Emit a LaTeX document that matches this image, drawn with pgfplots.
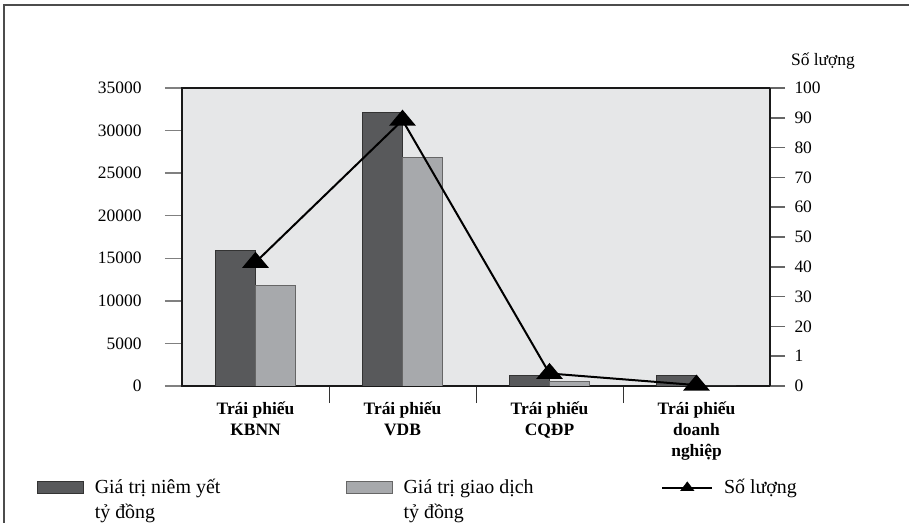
\documentclass[border=0pt]{standalone}
\usepackage{pgfplots}
\pgfplotsset{compat=1.18}
\usepackage{fontspec}
\setmainfont{Liberation Serif}
\definecolor{bgc}{HTML}{E6E7E8}
\definecolor{darkbar}{HTML}{58595B}
\definecolor{lightbar}{HTML}{A7A9AC}
\begin{document}
\begin{tikzpicture}
\path[use as bounding box] (0,0) rectangle (909bp,523bp);
\draw[line width=1.5bp, black!70] (4bp,-5bp) -- (4bp,518bp) -- (915bp,518bp);
\begin{axis}[
  at={(182bp,137bp)}, anchor=south west,
  width=588bp, height=298bp, scale only axis,
  xmin=-0.5, xmax=3.5, ymin=0, ymax=35000,
  axis background/.style={fill=bgc},
  axis line style={line width=2bp, black!90},
  ytick={0,5000,...,35000},
  xtick={0.5,1.5,2.5},
  xticklabels={,,},
  extra x ticks={0,1,2,3},
  extra x tick labels={{Trái phiếu\\KBNN},{Trái phiếu\\VDB},{Trái phiếu\\CQĐP},{Trái phiếu\\doanh\\nghiệp}},
  extra x tick style={major tick length=0pt, tick label style={align=center, yshift=-12bp, font=\bfseries\fontsize{17.5}{21}\selectfont}},
  x tick style={black!80, line width=1bp},
  y tick style={black!50, line width=1.5bp},
  major tick length=17bp,
  tick align=outside,
  xtick pos=bottom, ytick pos=left,
  y tick label style={font=\fontsize{17.5}{21}\selectfont, xshift=-20bp},
  /pgf/number format/assume math mode=true,
  /pgf/number format/1000 sep={},
  scaled y ticks=false,
  ybar, bar width=0.27,
  legend columns=3,
  legend style={at={(-0.2466,-0.3066)}, anchor=north west, draw=none, fill=none,
    inner sep=0pt, outer sep=0pt, column sep=0pt,
    cells={anchor=base west, inner sep=0pt},
    /tikz/every odd column/.append style={column sep=9bp},
    font=\fontsize{20}{25}\selectfont},
]
\addplot[fill=darkbar, draw=black!80, line width=0.8bp, bar shift=-0.135,
  legend image code/.code={\draw[fill=darkbar, draw=black!80, line width=0.8bp] (0bp,0bp) rectangle (46bp,12bp);}]
  coordinates {(0,15900) (1,32100) (2,1250) (3,1250)};
\addlegendentry{\parbox[t]{249bp}{Giá trị niêm yết\\tỷ đồng}}
\addplot[fill=lightbar, draw=black!60, line width=0.8bp, bar shift=0.135,
  legend image code/.code={\draw[fill=lightbar, draw=black!60, line width=0.8bp] (0bp,0bp) rectangle (46bp,12bp);}]
  coordinates {(0,11800) (1,26800) (2,560) (3,0)};
\addlegendentry{\parbox[t]{256bp}{Giá trị giao dịch\\tỷ đồng}}
\addlegendimage{legend image code/.code={\draw[sharp plot, black, line width=1.5bp] (0bp,6bp) -- (50bp,6bp); \draw[sharp plot, black, mark=triangle*, mark size=6bp, mark options={xscale=1.3}] plot coordinates {(25bp,6bp)};}}
\addlegendentry{Số lượng}
\end{axis}
\begin{axis}[
  at={(182bp,137bp)}, anchor=south west,
  width=588bp, height=298bp, scale only axis,
  xmin=-0.5, xmax=3.5, ymin=0, ymax=100,
  axis y line*=right, axis x line=none,
  axis line style={line width=2bp, black!90},
  ytick={0,10,...,100},
  yticklabels={0,1,20,30,40,50,60,70,80,90,100},
  y tick style={black!60, line width=1.5bp},
  major tick length=15bp,
  tick align=outside,
  y tick label style={font=\fontsize{17.5}{21}\selectfont, anchor=west, xshift=6bp},
  clip=false,
]
\addplot[black, line width=2bp, mark=triangle*, mark size=9bp, mark options={xscale=1.45}]
  coordinates {(0,41.5) (1,89.2) (2,4.2) (3,0.3)};
\node[font=\fontsize{17.5}{21}\selectfont, anchor=base] at (rel axis cs:1.09,1.077) {Số lượng};
\end{axis}
\end{tikzpicture}
\end{document}
